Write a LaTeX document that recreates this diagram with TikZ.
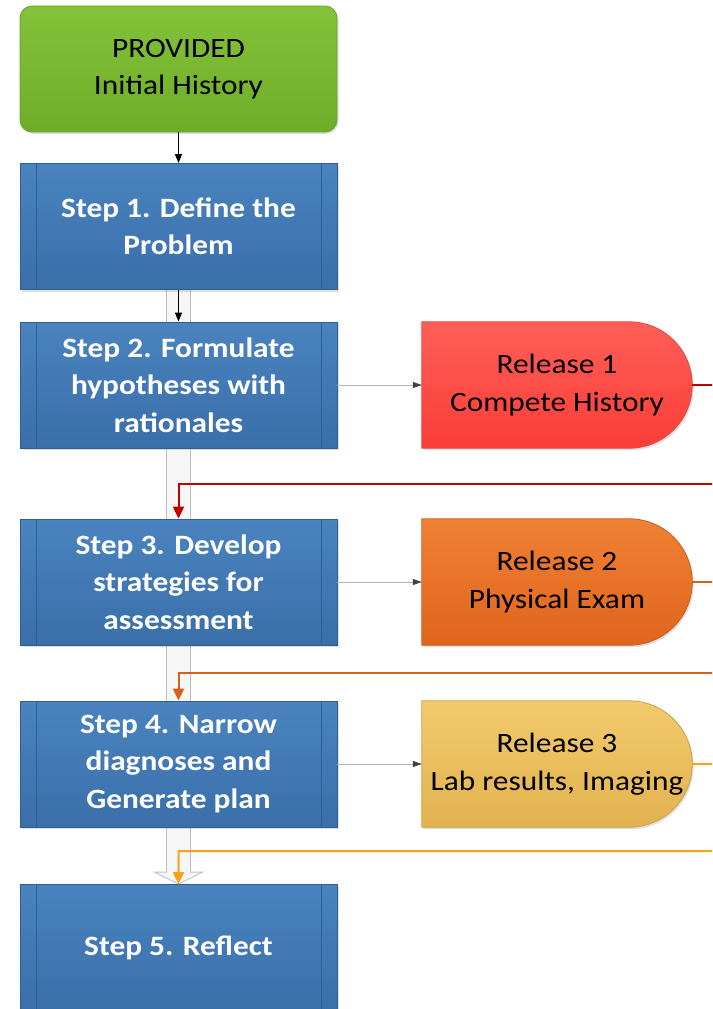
\documentclass[tikz,border=0pt]{standalone}
\usepackage{fontspec}
\setmainfont{Carlito}[FakeStretch=1.12]
\usepackage{xcolor}
\usetikzlibrary{arrows.meta,positioning,calc,shadows,backgrounds}

\definecolor{greentop}{HTML}{84C23A}
\definecolor{greenbot}{HTML}{6EAD27}
\definecolor{greenedge}{HTML}{67A030}
\definecolor{bluetop}{HTML}{4A83BF}
\definecolor{bluebot}{HTML}{3A6FA9}
\definecolor{blueedge}{HTML}{2F5E90}
\definecolor{redtop}{HTML}{FF5E58}
\definecolor{redbot}{HTML}{FA3D38}
\definecolor{rededge}{HTML}{DD4A45}
\definecolor{orgtop}{HTML}{EF8034}
\definecolor{orgbot}{HTML}{E0651C}
\definecolor{orgedge}{HTML}{C85E20}
\definecolor{sandtop}{HTML}{F2CA6C}
\definecolor{sandbot}{HTML}{E2B24F}
\definecolor{sandedge}{HTML}{C9A04A}
\definecolor{backred}{HTML}{C00000}
\definecolor{backorg}{HTML}{D8601A}
\definecolor{backsand}{HTML}{F5A318}

\tikzset{
	startbox/.style={rectangle, rounded corners=12pt, minimum width=317pt, minimum height=126pt,
		top color=greentop, bottom color=greenbot, draw=greenedge, line width=0.8pt,
		font=\fontsize{28}{37.5}\selectfont, align=center,
		drop shadow={opacity=0.25, shadow xshift=1.5pt, shadow yshift=-2pt}},
	stepbox/.style={rectangle, minimum width=317pt, minimum height=126pt,
		top color=bluetop, bottom color=bluebot, draw=blueedge, line width=0.8pt,
		font=\fontsize{28}{37.5}\selectfont\bfseries, text=white, align=center,
		drop shadow={opacity=0.25, shadow xshift=1.5pt, shadow yshift=-2pt},
		path picture={
			\draw[blueedge, line width=0.7pt] ([xshift=16pt]path picture bounding box.north west) -- ([xshift=16pt]path picture bounding box.south west);
			\draw[blueedge, line width=0.7pt] ([xshift=-16pt]path picture bounding box.north east) -- ([xshift=-16pt]path picture bounding box.south east);
		}},
	relbox/.style={rectangle, minimum width=270pt, minimum height=126pt,
		font=\fontsize{28}{37.5}\selectfont, align=center},
	flow/.style={-{Triangle[length=9pt,width=7pt]}, line width=1.2pt, black},
	link/.style={line width=0.8pt, gray!60, arrows={-{Triangle[length=9pt,width=6pt,color=black!75]}}},
	back/.style={-{Triangle[length=12pt,width=11pt]}, line width=2pt},
	wide/.style={fill=gray!7, draw=gray!50, line width=0.8pt},
}

\begin{document}
\begin{tikzpicture}[x=1pt, y=-1pt]
	\useasboundingbox (0,0) rectangle (712,1009);
	\clip (0,0) rectangle (712,1009);

	% main column
	\node[startbox] (start) at (178.5,69) {PROVIDED\\Initial History};
	\node[stepbox] (s1) at (178.5,226.5) {Step 1. Define the\\Problem};
	\node[stepbox] (s2) at (178.5,385) {Step 2. Formulate\\hypotheses with\\rationales};
	\node[stepbox] (s3) at (178.5,582) {Step 3. Develop\\strategies for\\assessment};
	\node[stepbox] (s4) at (178.5,764) {Step 4. Narrow\\diagnoses and\\Generate plan};
	\node[stepbox] (s5) at (178.5,947.5) {Step 5. Reflect};

	% releases
	\node[relbox] (r1) at (557,385) {Release 1\\Compete History};
	\node[relbox] (r2) at (557,582) {Release 2\\Physical Exam};
	\node[relbox] (r3) at (557,764) {Release 3\\Lab results, Imaging};

	\begin{scope}[on background layer]
		% hollow arrow behind the steps
		\draw[wide] ($(s1.south)+(-12,0)$) -- ($(s5.north)+(-12,-12)$) -- ($(s5.north)+(-24,-12)$)
			-- (s5.north) -- ($(s5.north)+(24,-12)$) -- ($(s5.north)+(12,-12)$) -- ($(s1.south)+(12,0)$);
		% release shapes, round on the right
		\foreach \r/\t/\b/\e in {r1/redtop/redbot/rededge, r2/orgtop/orgbot/orgedge, r3/sandtop/sandbot/sandedge}
			\shade[top color=\t, bottom color=\b, draw=\e, line width=0.8pt,
				drop shadow={opacity=0.25, shadow xshift=1.5pt, shadow yshift=-2pt}]
				(\r.south west) -- (\r.north west) [rounded corners=63pt] -- (\r.north east)
				-- (\r.south east) [sharp corners] -- cycle;
	\end{scope}

	\draw[flow] (start) -- (s1);
	\draw[flow] (s1) -- (s2);

	\draw[link] (s2) -- (r1);
	\draw[link] (s3) -- (r2);
	\draw[link] (s4) -- (r3);

	% results fed back into the next step
	\draw[back, backred] (r1.east) -- ++(40,0) |- ($(s2.south)!0.5!(s3.north)$) -- (s3.north);
	\draw[back, backorg] (r2.east) -- ++(40,0) |- ($(s3.south)!0.5!(s4.north)$) -- (s4.north);
	\draw[back, backsand] (r3.east) -- ++(40,0) |- ($(s4.south)!0.42!(s5.north)$) -- (s5.north);
\end{tikzpicture}
\end{document}
